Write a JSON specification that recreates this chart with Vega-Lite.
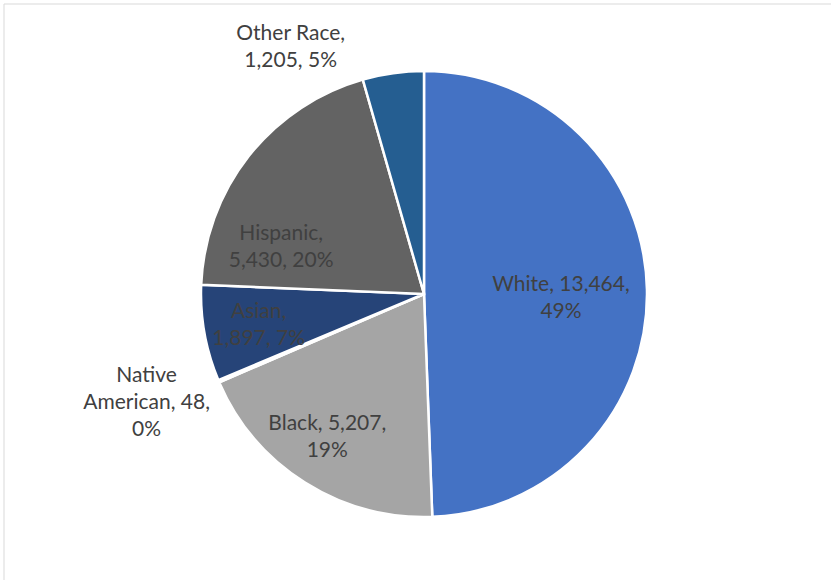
{
  "$schema": "https://vega.github.io/schema/vega-lite/v6.json",
  "width": 827,
  "height": 576,
  "autosize": {"type": "none"},
  "padding": {"left": 4, "top": 4, "right": 0, "bottom": 0},
  "background": "white",
  "config": {"view": {"stroke": null}},
  "data": {
    "values": [
      {"race": "White", "count": 13464, "rank": 1, "label": "White, 13,464,\n49%"},
      {"race": "Black", "count": 5207, "rank": 2, "label": "Black, 5,207,\n19%"},
      {"race": "Native American", "count": 48, "rank": 3, "label": "Native\nAmerican, 48,\n0%"},
      {"race": "Asian", "count": 1897, "rank": 4, "label": "Asian,\n1,897, 7%"},
      {"race": "Hispanic", "count": 5430, "rank": 5, "label": "Hispanic,\n5,430, 20%"},
      {"race": "Other Race", "count": 1205, "rank": 6, "label": "Other Race,\n1,205, 5%"}
    ]
  },
  "transform": [
    {"stack": "count", "groupby": [], "sort": [{"field": "rank"}], "as": ["th0", "th1"]},
    {"calculate": "(datum.th0 + datum.th1) / 2", "as": "mid"}
  ],
  "layer": [
    {
      "data": {"values": [{}]},
      "transform": [],
      "mark": {"type": "rule", "stroke": "#D9D9D9", "strokeWidth": 1},
      "encoding": {
        "x": {"value": 0},
        "x2": {"value": "width"},
        "y": {"value": 0}
      }
    },
    {
      "data": {"values": [{}]},
      "transform": [],
      "mark": {"type": "rule", "stroke": "#D9D9D9", "strokeWidth": 1},
      "encoding": {
        "x": {"value": 0},
        "y": {"value": 0},
        "y2": {"value": "height"}
      }
    },
    {
      "mark": {"type": "arc", "outerRadius": 223, "stroke": "white", "strokeWidth": 2.5, "xOffset": 6.5, "yOffset": 2},
      "encoding": {
        "theta": {"field": "th0", "type": "quantitative", "scale": {"domain": [0, 27251]}},
        "theta2": {"field": "th1"},
        "color": {
          "field": "race",
          "type": "nominal",
          "legend": null,
          "scale": {
            "domain": ["White", "Black", "Native American", "Asian", "Hispanic", "Other Race"],
            "range": ["#4472C4", "#A5A5A5", "#FFC000", "#264478", "#636363", "#255E91"]
          }
        }
      }
    },
    {
      "transform": [{"filter": "datum.race == 'White'"}],
      "mark": {"type": "text", "radius": 137, "dy": -6, "xOffset": 6.5, "yOffset": 2, "font": "Lato", "fontSize": 21, "lineHeight": 27, "lineBreak": "\n", "align": "center", "baseline": "middle", "color": "#404040"},
      "encoding": {"theta": {"field": "mid", "type": "quantitative", "scale": {"domain": [0, 27251]}}, "text": {"field": "label"}}
    },
    {
      "transform": [{"filter": "datum.race == 'Black'"}],
      "mark": {"type": "text", "radius": 170, "dx": -6, "dy": -14, "xOffset": 6.5, "yOffset": 2, "font": "Lato", "fontSize": 21, "lineHeight": 27, "lineBreak": "\n", "align": "center", "baseline": "middle", "color": "#404040"},
      "encoding": {"theta": {"field": "mid", "type": "quantitative", "scale": {"domain": [0, 27251]}}, "text": {"field": "label"}}
    },
    {
      "transform": [{"filter": "datum.race == 'Native American'"}],
      "mark": {"type": "text", "radius": 296, "dx": -5, "dy": -34, "xOffset": 6.5, "yOffset": 2, "font": "Lato", "fontSize": 21, "lineHeight": 27, "lineBreak": "\n", "align": "center", "baseline": "middle", "color": "#404040"},
      "encoding": {"theta": {"field": "mid", "type": "quantitative", "scale": {"domain": [0, 27251]}}, "text": {"field": "label"}}
    },
    {
      "transform": [{"filter": "datum.race == 'Asian'"}],
      "mark": {"type": "text", "radius": 168, "dy": -12, "xOffset": 6.5, "yOffset": 2, "font": "Lato", "fontSize": 21, "lineHeight": 27, "lineBreak": "\n", "align": "center", "baseline": "middle", "color": "#404040"},
      "encoding": {"theta": {"field": "mid", "type": "quantitative", "scale": {"domain": [0, 27251]}}, "text": {"field": "label"}}
    },
    {
      "transform": [{"filter": "datum.race == 'Hispanic'"}],
      "mark": {"type": "text", "radius": 150, "dx": -25, "dy": 33, "xOffset": 6.5, "yOffset": 2, "font": "Lato", "fontSize": 21, "lineHeight": 27, "lineBreak": "\n", "align": "center", "baseline": "middle", "color": "#404040"},
      "encoding": {"theta": {"field": "mid", "type": "quantitative", "scale": {"domain": [0, 27251]}}, "text": {"field": "label"}}
    },
    {
      "transform": [{"filter": "datum.race == 'Other Race'"}],
      "mark": {"type": "text", "radius": 255, "dx": -98, "dy": -7, "xOffset": 6.5, "yOffset": 2, "font": "Lato", "fontSize": 21, "lineHeight": 27, "lineBreak": "\n", "align": "center", "baseline": "middle", "color": "#404040"},
      "encoding": {"theta": {"field": "mid", "type": "quantitative", "scale": {"domain": [0, 27251]}}, "text": {"field": "label"}}
    }
  ]
}
